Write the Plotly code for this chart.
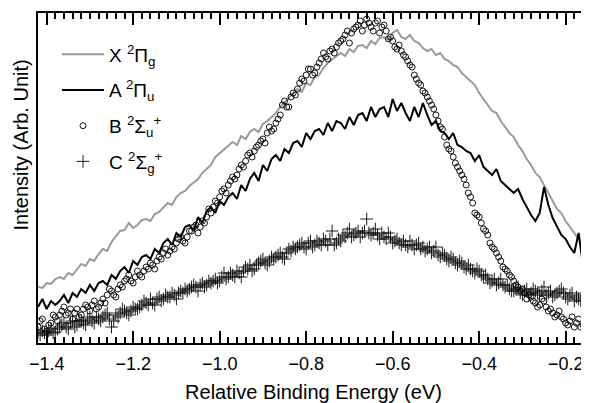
import numpy as np
import plotly.graph_objects as go

# energy grid (eV), 0.01 steps from -1.42 to -0.15
energy = np.round(np.arange(-1.42, -0.145, 0.01), 2)
# the marker series are sampled twice as densely: second set sits half a step to the right
energy_half = np.round(energy[:-1] + 0.005, 3)

# intensities (arb. units)
x_2pig = [56, 55, 60, 59, 64, 66, 64, 70, 68, 74, 79, 77, 84, 82, 89, 94, 92, 101, 106, 112,
          113, 120, 115, 118, 123, 124, 122, 129, 131, 135, 140, 138, 146, 150, 152, 157, 161, 164, 170, 174,
          178, 186, 190, 193, 198, 201, 198, 207, 204, 211, 214, 211, 219, 222, 226, 230, 236, 240, 245, 250,
          254, 251, 260, 258, 266, 268, 275, 280, 284, 287, 290, 287, 294, 291, 297, 298, 295, 302, 299, 305,
          306, 303, 310, 313, 306, 304, 308, 302, 300, 295, 292, 294, 288, 290, 284, 282, 278, 276, 270, 266,
          262, 258, 250, 244, 238, 232, 230, 222, 216, 210, 206, 198, 192, 184, 178, 170, 166, 158, 150, 142,
          134, 130, 122, 116, 110, 105, 98, 90]
a_2piu = [36, 44, 34, 42, 38, 42, 48, 40, 50, 46, 54, 50, 58, 52, 60, 62, 58, 68, 64, 72,
          76, 70, 82, 78, 86, 88, 84, 94, 90, 100, 104, 98, 110, 106, 116, 118, 112, 126, 120, 132,
          136, 130, 142, 138, 146, 150, 144, 158, 152, 164, 170, 162, 178, 172, 184, 188, 182, 194, 190, 200,
          202, 196, 210, 204, 212, 214, 208, 220, 212, 222, 220, 214, 226, 218, 228, 230, 222, 236, 226, 234,
          236, 226, 244, 232, 240, 230, 222, 236, 226, 240, 228, 218, 222, 212, 210, 204, 210, 198, 196, 192,
          190, 182, 188, 176, 172, 168, 174, 162, 158, 154, 150, 154, 144, 136, 128, 122, 130, 156, 138, 125,
          116, 108, 104, 96, 90, 110, 78, 56]
b_2sigu = [16, 24, 12, 20, 26, 28, 36, 30, 24, 34, 28, 38, 32, 42, 36, 44, 48, 52, 46, 58,
           62, 68, 60, 72, 66, 76, 80, 74, 86, 90, 88, 96, 100, 106, 100, 112, 116, 110, 122, 126,
           130, 142, 146, 154, 158, 166, 168, 178, 182, 190, 192, 198, 204, 210, 212, 220, 228, 242, 236, 250,
           254, 264, 268, 274, 270, 280, 290, 284, 294, 296, 302, 308, 300, 314, 318, 312, 324, 316, 320, 310,
           318, 304, 302, 294, 292, 286, 278, 268, 260, 252, 246, 238, 228, 216, 206, 194, 186, 176, 168, 158,
           146, 130, 126, 114, 108, 96, 90, 82, 74, 68, 62, 56, 54, 44, 46, 40, 38, 42, 32, 30,
           28, 26, 20, 22, 16, 24, 18, 22]
b_2sigu_half = [22, 14, 18, 28, 22, 32, 28, 34, 30, 26, 34, 36, 38, 34, 40, 40, 54, 48, 54, 56,
                64, 62, 66, 68, 72, 74, 78, 82, 84, 94, 92, 94, 104, 102, 106, 112, 118, 116, 120, 134,
                136, 140, 152, 150, 162, 164, 174, 176, 188, 186, 196, 202, 200, 216, 214, 224, 238, 236, 246, 248,
                260, 262, 274, 268, 276, 284, 286, 292, 290, 300, 304, 312, 310, 316, 322, 318, 320, 312, 322, 316,
                312, 306, 296, 298, 288, 282, 276, 264, 258, 250, 242, 234, 222, 214, 198, 192, 180, 172, 164, 150,
                140, 128, 120, 112, 100, 94, 86, 76, 72, 66, 58, 52, 50, 48, 42, 36, 44, 36, 34, 26,
                32, 24, 18, 26, 20, 16, 26]
c_2sigg = [10, 12, 8, 14, 11, 16, 20, 14, 22, 18, 22, 18, 26, 20, 24, 26, 30, 16, 28, 30,
           32, 28, 36, 34, 38, 40, 44, 38, 46, 44, 46, 50, 44, 52, 54, 54, 58, 52, 60, 58,
           60, 64, 62, 70, 66, 68, 72, 66, 76, 78, 74, 80, 84, 78, 86, 86, 90, 84, 94, 96,
           96, 100, 94, 102, 98, 100, 104, 98, 112, 100, 102, 106, 114, 108, 112, 110, 124, 108, 114, 104,
           106, 110, 100, 104, 98, 98, 102, 94, 100, 96, 94, 90, 96, 86, 88, 82, 84, 78, 80, 74,
           74, 70, 72, 66, 64, 62, 58, 64, 56, 54, 52, 56, 48, 54, 50, 52, 48, 56, 50, 46,
           50, 54, 46, 48, 42, 44, 48, 46]
c_2sigg_half = [8, 10, 12, 10, 14, 18, 16, 20, 16, 22, 20, 24, 22, 26, 22, 28, 24, 22, 26, 34,
                30, 32, 34, 36, 42, 38, 40, 44, 42, 48, 46, 48, 50, 50, 52, 56, 56, 58, 56, 62,
                62, 60, 66, 64, 70, 66, 70, 72, 74, 72, 78, 82, 80, 82, 84, 88, 86, 90, 92, 94,
                98, 96, 100, 96, 102, 98, 102, 104, 98, 104, 108, 110, 106, 110, 106, 112, 110, 110, 108, 110,
                104, 106, 102, 100, 102, 96, 98, 98, 94, 92, 96, 92, 88, 90, 84, 86, 80, 82, 76, 78,
                72, 74, 68, 68, 60, 64, 60, 58, 58, 52, 54, 50, 52, 48, 54, 50, 52, 48, 52, 48,
                52, 50, 44, 50, 46, 42, 50]

font_name = "Liberation Sans, Arial, sans-serif"

fig = go.Figure()
fig.add_trace(go.Scatter(x=energy, y=x_2pig, mode='lines', name='X <sup>2</sup>Π<sub>g</sub>', legendgroup='x',
                         line=dict(color='#9a9a9a', width=2)))
fig.add_trace(go.Scatter(x=energy, y=a_2piu, mode='lines', name='A <sup>2</sup>Π<sub>u</sub>', legendgroup='a',
                         line=dict(color='black', width=2)))
fig.add_trace(go.Scatter(x=np.concatenate([energy, energy_half]), y=b_2sigu + b_2sigu_half, mode='markers',
                         name='B <sup>2</sup>Σ<sub>u</sub><sup>+</sup>', legendgroup='b',
                         marker=dict(symbol='circle-open', size=6, color='black', line=dict(width=0.9))))
fig.add_trace(go.Scatter(x=np.concatenate([energy, energy_half]), y=c_2sigg + c_2sigg_half, mode='markers',
                         name='C <sup>2</sup>Σ<sub>g</sub><sup>+</sup>', legendgroup='c',
                         marker=dict(symbol='cross-thin', size=9, color='black', line=dict(width=0.9, color='black'))))

# page body adds an 8px offset, so the figure is 8px smaller than the window
fig.update_layout(
    template='simple_white',
    width=581, height=395,
    margin=dict(l=30, r=0, t=5, b=60),
    font=dict(family=font_name, size=18, color='black'),
    showlegend=True,
    legend=dict(x=0.0345, y=0.932, xanchor='left', yanchor='top', bgcolor='rgba(0,0,0,0)',
                font=dict(size=19), tracegroupgap=8, itemwidth=42),
)
fig.update_xaxes(
    range=[-1.42, -0.146], showline=True, linecolor='black', linewidth=2,
    mirror='allticks', ticks='inside', ticklen=12, tickwidth=2, tickcolor='black',
    tickmode='linear', tick0=-1.4, dtick=0.2, tickformat='.1f', ticklabelstandoff=3,
    minor=dict(ticks='inside', ticklen=6, tickwidth=1.5, tickcolor='black', dtick=0.02),
    showgrid=False, zeroline=False,
    title=dict(text='Relative Binding Energy (eV)', standoff=12, font=dict(size=20)),
)
fig.update_yaxes(
    range=[0, 330], showline=True, linecolor='black', linewidth=2,
    showticklabels=False, ticks='', showgrid=False, zeroline=False,
)
# y title sits a bit above the middle of the axis in the original
fig.add_annotation(text='Intensity (Arb. Unit)', xref='paper', yref='paper', x=-0.030, y=0.6,
                   textangle=-90, showarrow=False, xanchor='center', yanchor='middle', font=dict(size=20))

fig.write_html("out.html")
